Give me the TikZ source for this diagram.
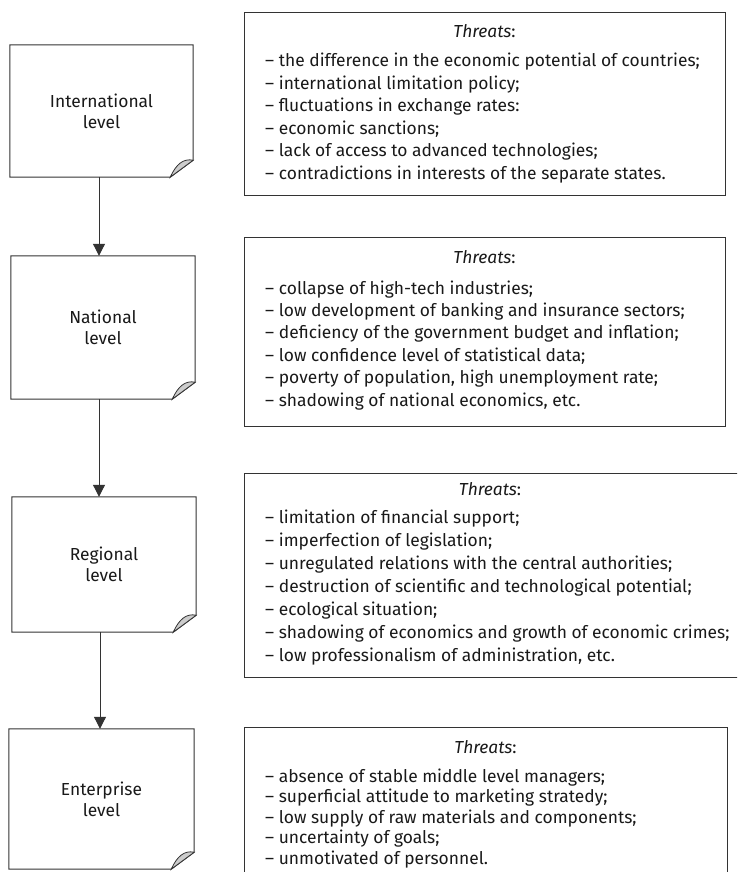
\documentclass[tikz,border=0pt]{standalone}
\usepackage{fontspec}
\setmainfont{Fira Sans}
\usetikzlibrary{arrows.meta}
\newcommand\foldbox[1]{%
  \draw[frame] (#1.north west) -- (#1.north east) -- ([yshift=17pt]#1.south east) -- ([xshift=-23pt]#1.south east) -- (#1.south west) -- cycle;
  \filldraw[frame, line width=0.8pt, fill=black!20] ([yshift=17pt]#1.south east) .. controls ([xshift=-10pt,yshift=19pt]#1.south east) and ([xshift=-17pt,yshift=13pt]#1.south east) .. ([xshift=-23pt]#1.south east) -- cycle;
}
\begin{document}
\begin{tikzpicture}[x=1pt,y=-1pt,
  frame/.style={draw=black!80, line width=1pt},
  lvl/.style={inner sep=0pt, align=center, font=\fontsize{17.4}{21}\selectfont, text=black!90},
  tbox/.style={frame, inner sep=0pt, anchor=north west},
  ttl/.style={inner sep=0pt, anchor=base, font=\fontsize{17.4}{21}\selectfont, text=black!90},
  itm/.style={inner sep=0pt, anchor=base west, font=\fontsize{17.4}{21}\selectfont, text=black!90},
  arr/.style={frame, -{Triangle[length=12pt,width=12pt]}}
]
\useasboundingbox (0,0) rectangle (737,872);
\clip (0,0) rectangle (737,872);

% level boxes
\node[lvl, minimum width=183pt, minimum height=132pt] (L1) at (101.5,111) {International\\level};
\node[lvl, minimum width=184pt, minimum height=143pt] (L2) at (103,327.5) {National\\level};
\node[lvl, minimum width=184pt, minimum height=135pt] (L3) at (104,564.5) {Regional\\level};
\node[lvl, minimum width=185pt, minimum height=140pt] (L4) at (101.5,799) {Enterprise\\level};
\foldbox{L1}\foldbox{L2}\foldbox{L3}\foldbox{L4}

\draw[arr] ([xshift=-2.5pt]L1.south) -- ([xshift=-2.5pt]L1.south |- L2.north);
\draw[arr] ([xshift=-4pt]L2.south) -- ([xshift=-4pt]L2.south |- L3.north);
\draw[arr] ([xshift=-4pt]L3.south) -- ([xshift=-4pt]L3.south |- L4.north);

% threat boxes
\node[tbox, minimum width=481pt, minimum height=183pt] (T1) at (244,12) {};
\node[tbox, minimum width=481pt, minimum height=189pt] (T2) at (244,237) {};
\node[tbox, minimum width=520pt, minimum height=204pt] (T3) at (244,473) {};
\node[tbox, minimum width=483pt, minimum height=180pt] (T4) at (244,727) {};

\node[ttl] (T1t) at (484.5,38) {\textit{Threats}:};
\node[ttl] (T2t) at (484.5,263) {\textit{Threats}:};
\node[ttl] (T3t) at (490,495) {\textit{Threats}:};
\node[ttl] (T4t) at (485.5,753) {\textit{Threats}:};

\foreach \t [count=\i] in {{the difference in the economic potential of countries;},{international limitation policy;},{fluctuations in exchange rates:},{economic sanctions;},{lack of access to advanced technologies;},{contradictions in interests of the separate states.}}
  \node[itm] (T1-\i) at (265,{67+22.4*(\i-1)}) {– \t};

\foreach \t [count=\i] in {{collapse of high-tech industries;},{low development of banking and insurance sectors;},{deficiency of the government budget and inflation;},{low confidence level of statistical data;},{poverty of population, high unemployment rate;},{shadowing of national economics, etc.}}
  \node[itm] (T2-\i) at (265,{294+22.4*(\i-1)}) {– \t};

\foreach \t [count=\i] in {{limitation of financial support;},{imperfection of legislation;},{unregulated relations with the central authorities;},{destruction of scientific and technological potential;},{ecological situation;},{shadowing of economics and growth of economic crimes;},{low professionalism of administration, etc.}}
  \node[itm] (T3-\i) at (265,{523+23*(\i-1)}) {– \t};

\foreach \t [count=\i] in {{absence of stable middle level managers;},{superficial attitude to marketing stratedy;},{low supply of raw materials and components;},{uncertainty of goals;},{unmotivated of personnel.}}
  \node[itm] (T4-\i) at (265,{782+20.5*(\i-1)}) {– \t};
\end{tikzpicture}
\end{document}
